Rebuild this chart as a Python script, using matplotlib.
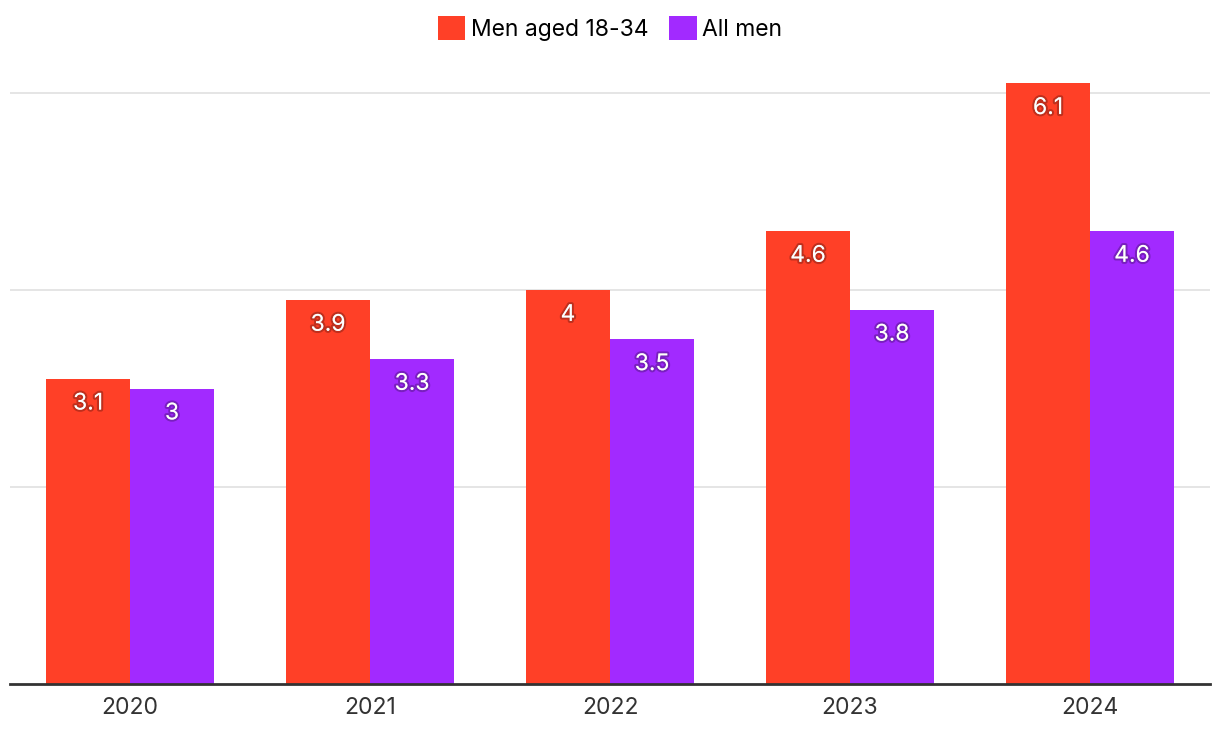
import matplotlib
matplotlib.use("Agg")
import matplotlib.pyplot as plt
import matplotlib.patheffects as pe
import numpy as np
from matplotlib.patches import Patch

years = ["2020", "2021", "2022", "2023", "2024"]
young_men = [3.1, 3.9, 4.0, 4.6, 6.1]
all_men = [3.0, 3.3, 3.5, 3.8, 4.6]
young_labels = ["3.1", "3.9", "4", "4.6", "6.1"]
all_labels = ["3", "3.3", "3.5", "3.8", "4.6"]
series_names = ["Men aged 18-34", "All men"]
colors = ["#FF4027", "#A22AFF"]

plt.rcParams['font.family'] = ['Inter', 'DejaVu Sans']

W, H = 1220, 738
fig = plt.figure(figsize=(W / 100, H / 100), dpi=100)
ax = fig.add_axes([10 / W, 54 / H, 1200 / W, (684 - 54) / H])

x = np.arange(len(years))
bw = 0.35
b1 = ax.bar(x - bw / 2, young_men, bw, color=colors[0], zorder=3)
b2 = ax.bar(x + bw / 2, all_men, bw, color=colors[1], zorder=3)

ax.set_xlim(-0.5, len(years) - 0.5)
ax.set_ylim(0, 630 / 98.5)
ax.set_yticks([2, 4, 6])
ax.yaxis.grid(True, color="#e0e0e0", linewidth=1.2, zorder=0)
ax.tick_params(axis="y", length=0, labelleft=False)
ax.set_xticks(x)
ax.set_xticklabels(years, fontsize=16.5, color="#333333")
ax.tick_params(axis="x", length=0, pad=9)
for s in ["top", "right", "left"]:
    ax.spines[s].set_visible(False)
ax.spines["bottom"].set_color("#333333")
ax.spines["bottom"].set_linewidth(2)
ax.spines["bottom"].set_zorder(4)

effects = [pe.withStroke(linewidth=3, foreground=(0, 0, 0, 0.25))]
for bars, labels in [(b1, young_labels), (b2, all_labels)]:
    for rect, lab in zip(bars, labels):
        ax.annotate(lab, (rect.get_x() + rect.get_width() / 2, rect.get_height()),
                    xytext=(0, -10), textcoords="offset points",
                    ha="center", va="top", fontsize=16.5, color="white",
                    path_effects=effects, zorder=5)

handles = [Patch(facecolor=c, label=n) for c, n in zip(colors, series_names)]
fig.legend(handles=handles, loc="upper center", bbox_to_anchor=(0.5, 1.0),
           ncol=2, frameon=False, fontsize=16.5, handlelength=1.2, handleheight=1.2,
           handletextpad=0.25, columnspacing=0.9, borderaxespad=0.3)

fig.savefig("out.png", dpi=100, facecolor="white")
